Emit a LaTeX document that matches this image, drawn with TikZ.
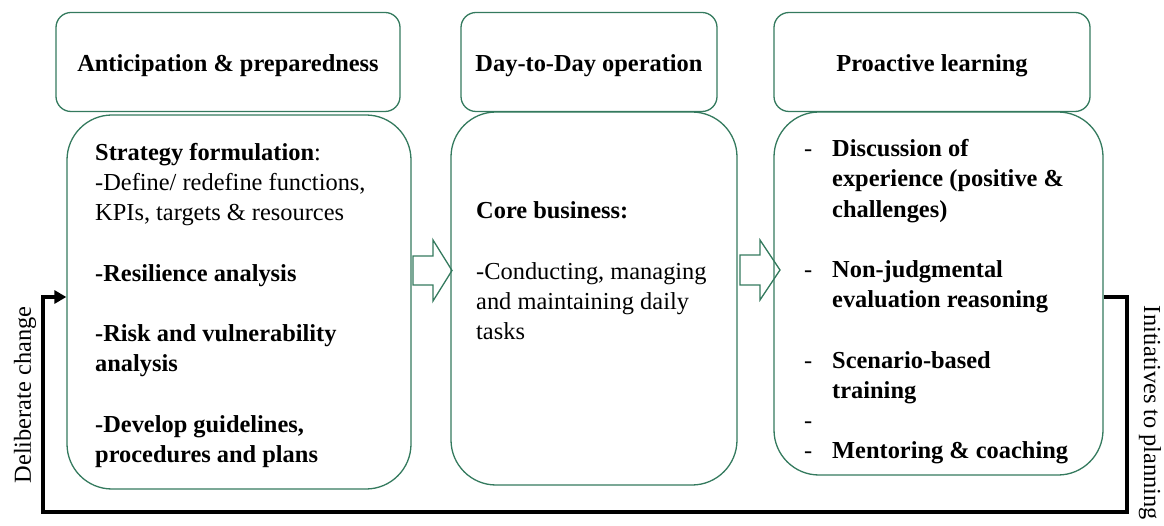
\documentclass[tikz,border=0pt]{standalone}
\usepackage{fontspec}
\setmainfont{Liberation Serif}
\usetikzlibrary{arrows.meta}
\definecolor{boxgreen}{RGB}{52,122,94}
\begin{document}
\begin{tikzpicture}[x=1pt,y=-1pt,
  hdr/.style={draw=boxgreen,line width=1.3pt,rounded corners=15pt,inner sep=0pt,
    text height=19pt,text depth=0pt,
    font=\fontsize{24.4}{30.2}\selectfont\bfseries},
  bodybox/.style={draw=boxgreen,line width=1.3pt,rounded corners=45pt,inner sep=0pt},
  txt/.style={anchor=north west,inner sep=0pt,align=left,font=\fontsize{24.4}{30.2}\selectfont},
  blockarrow/.style={draw=boxgreen,line width=1.3pt},
  fb/.style={line width=3.5pt,draw=black},
  sidelabel/.style={font=\fontsize{24.4}{28}\selectfont,inner sep=0pt}]
\useasboundingbox (0,0) rectangle (1164,526);

% block arrows (drawn first)
\draw[blockarrow] (413,256) -- (433,256) -- (433,240) -- (452,270.5) -- (433,301) -- (433,285) -- (413,285) -- cycle;
\draw[blockarrow] (740,255) -- (760,255) -- (760,240) -- (780,270) -- (760,300) -- (760,285) -- (740,285) -- cycle;

% headers
\node[hdr,minimum width=344pt,minimum height=99pt] (Ah) at (228,62) {Anticipation \& preparedness};
\node[hdr,minimum width=256pt,minimum height=99pt] (Bh) at (589,62) {Day-to-Day operation};
\node[hdr,minimum width=316pt,minimum height=99pt] (Ch) at (932,62) {Proactive learning};

% bodies
\node[bodybox,minimum width=344pt,minimum height=374pt] (Ab) at (239,302) {};
\node[bodybox,minimum width=286pt,minimum height=373pt] (Bb) at (594,298.5) {};
\node[bodybox,minimum width=329pt,minimum height=363pt] (Cb) at (938.5,293.5) {};

% texts
\node[txt] (At) at (95,138.86) {\strut\textbf{Strategy formulation}:\\
-Define/ redefine functions,\\
KPIs, targets \& resources\\
\mbox{}\\
\textbf{-Resilience analysis}\\
\mbox{}\\
\textbf{-Risk and vulnerability}\\
\textbf{analysis}\\
\mbox{}\\
\textbf{-Develop guidelines,}\\
\textbf{procedures and plans}};

\node[txt] (Bt) at (476,197.36) {\strut\textbf{Core business:}\\
\mbox{}\\
-Conducting, managing\\
and maintaining daily\\
tasks};

\node[txt] (Cd) at (804,135.36) {\strut -\\ \mbox{}\\ \mbox{}\\ \mbox{}\\ -\\ \mbox{}\\ \mbox{}\\ -\\ \mbox{}\\ -\\ -};
\node[txt,font=\fontsize{24.4}{30.2}\selectfont\bfseries] (Ct) at (832,135.36) {\strut Discussion of\\
experience (positive \&\\
challenges)\\
\mbox{}\\
Non-judgmental\\
evaluation reasoning\\
\mbox{}\\
Scenario-based\\
training\\
\mbox{}\\
Mentoring \& coaching};

% feedback loop
\coordinate (ylev) at (0,297);
\coordinate (fbR) at (1127,512);
\coordinate (fbL) at (43,512);
\draw[fb,-{Triangle[length=12pt,width=13pt]}] (Cb.east |- ylev) -| (fbR) -- (fbL) |- (Ab.west |- ylev);

\node[sidelabel,rotate=90] (dl) at (25,395) {Deliberate change};
\node[sidelabel,rotate=-90] (il) at (1150,413) {Initiatives to planning};
\end{tikzpicture}
\end{document}
